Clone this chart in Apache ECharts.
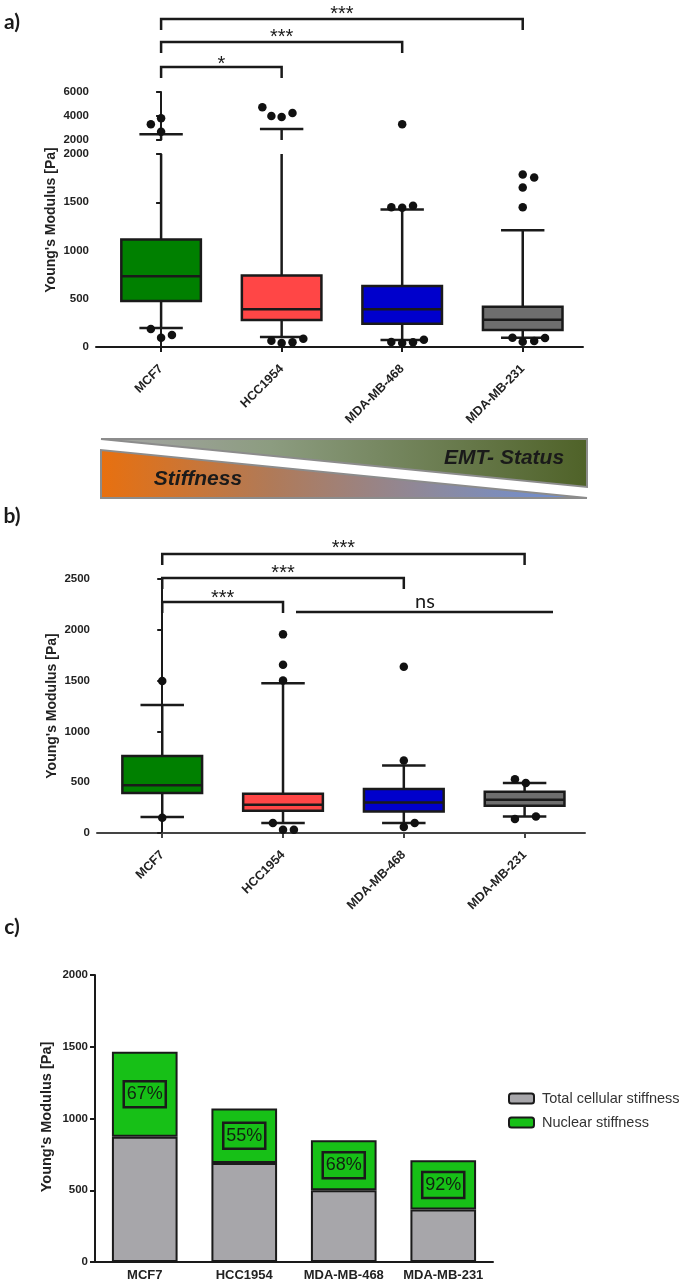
<!DOCTYPE html>
<html><head><meta charset="utf-8">
<script src="https://cdn.jsdelivr.net/npm/echarts@6/dist/echarts.min.js"></script>
<style>html,body{margin:0;padding:0;background:#fff}#c{width:688px;height:1286px}</style>
</head><body><div id="c"></div>
<script>
// ---------------- data ----------------
const categories = ['MCF7', 'HCC1954', 'MDA-MB-468', 'MDA-MB-231'];
const boxColors = ['#008000', '#ff4646', '#0000cc', '#6e6e6e'];

// panel a: [lower whisker, Q1, median, Q3, upper whisker]
const boxA = [
  [197, 476, 732, 1115, 2475],
  [103, 280, 390, 742, 2920],
  [72, 241, 390, 631, 1425],
  [96, 176, 283, 417, 1211]
];
// panel a outliers: [group position, value]
const outliersA = [
  [-0.085, 3308], [0, 3808], [0, 2690], [-0.085, 186], [0, 96], [0.09, 124],
  [0.84, 4725], [0.915, 4000], [1, 3917], [1.09, 4250], [0.915, 65], [1, 41], [1.09, 49], [1.18, 86],
  [1.91, 1449], [2, 1442], [2.09, 1463], [2, 3308], [1.91, 52], [2, 41], [2.09, 49], [2.18, 76],
  [3, 1788], [3.095, 1757], [3, 1653], [3, 1449], [2.915, 96], [3, 55], [3.095, 62], [3.185, 93]
];
const ticksAUpper = [2000, 4000, 6000];
const ticksALower = [0, 500, 1000, 1500, 2000];

// panel b
const boxB = [
  [157, 393, 471, 759, 1260],
  [98, 219, 278, 386, 1473],
  [98, 212, 301, 432, 664],
  [163, 268, 327, 406, 491]
];
const outliersB = [
  [0, 1496], [0, 150],
  [1, 1955], [1, 1655], [1, 1500], [0.916, 98], [1, 33], [1.09, 33],
  [2, 1637], [2, 713], [2, 59], [2.09, 98],
  [2.92, 530], [3.01, 491], [2.92, 137], [3.094, 163]
];
const ticksB = [0, 500, 1000, 1500, 2000, 2500];

// panel c
const totalCellular = [872, 690, 500, 365];
const barTops = [1465, 1070, 849, 709];
const percentLabels = ['67%', '55%', '68%', '92%'];
const ticksC = [0, 500, 1000, 1500, 2000];
const legendNames = ['Total cellular stiffness', 'Nuclear stiffness'];

// ---------------- styles ----------------
const INK = '#1a1a1a';
const AXFONT = '"Liberation Sans", Arial, sans-serif';
const BOX_W = 0.66, CAP_W = 0.36;

function boxRender(params, api) {
  const x = api.value(0);
  const lo = api.coord([x, api.value(1)]);
  const q1 = api.coord([x, api.value(2)]);
  const md = api.coord([x, api.value(3)]);
  const q3 = api.coord([x, api.value(4)]);
  const hi = api.coord([x, api.value(5)]);
  const bw = api.size([BOX_W, 0])[0];
  const cw = api.size([CAP_W, 0])[0];
  const cx = md[0];
  const ls = { stroke: INK, lineWidth: 2.5 };
  return {
    type: 'group',
    children: [
      { type: 'line', shape: { x1: cx, y1: hi[1], x2: cx, y2: q3[1] }, style: ls },
      { type: 'line', shape: { x1: cx, y1: q1[1], x2: cx, y2: lo[1] }, style: ls },
      { type: 'line', shape: { x1: cx - cw / 2, y1: hi[1], x2: cx + cw / 2, y2: hi[1] }, style: ls },
      { type: 'line', shape: { x1: cx - cw / 2, y1: lo[1], x2: cx + cw / 2, y2: lo[1] }, style: ls },
      { type: 'rect', shape: { x: cx - bw / 2, y: q3[1], width: bw, height: q1[1] - q3[1] },
        style: { fill: api.visual('color'), stroke: INK, lineWidth: 2.5 } },
      { type: 'line', shape: { x1: cx - bw / 2, y1: md[1], x2: cx + bw / 2, y2: md[1] }, style: ls }
    ]
  };
}

function boxData(arr) {
  return arr.map((b, i) => ({ value: [i, ...b], itemStyle: { color: boxColors[i] } }));
}

function yAx(grid, ticks) {
  return {
    type: 'value', gridIndex: grid,
    min: ticks[0], max: ticks[ticks.length - 1], interval: ticks[1] - ticks[0],
    axisLine: { show: true, lineStyle: { color: INK, width: 2 } },
    axisTick: { show: true, length: 5, lineStyle: { color: INK, width: 2 } },
    axisLabel: { color: '#222', fontFamily: AXFONT, fontWeight: 'bold', fontSize: 11.5, margin: 7,
      formatter: v => String(v) },
    splitLine: { show: false }
  };
}

function xValAx(grid, show, color) {
  return {
    type: 'value', gridIndex: grid, min: -0.54, max: 3.5, show: show,
    axisLine: { show: true, onZero: false, lineStyle: { color: color || INK, width: 2 } },
    axisTick: { show: true, customValues: [0, 1, 2, 3], length: 5, lineStyle: { color: color || INK, width: 2 } },
    axisLabel: {
      customValues: [0, 1, 2, 3], formatter: v => categories[Math.round(v)],
      rotate: 45, margin: 20, color: '#222', fontFamily: AXFONT, fontWeight: 'bold', fontSize: 12.5
    },
    splitLine: { show: false }
  };
}

const chart = echarts.init(document.getElementById('c'), null, { renderer: 'canvas' });

const dotStyle = { color: '#111', opacity: 1 };

const option = {
  animation: false,
  backgroundColor: '#fff',
  grid: [
    { left: 96, top: 92, width: 487, height: 48 },
    { left: 96, top: 154, width: 487, height: 193 },
    { left: 97, top: 579, width: 488, height: 254 },
    { left: 95, top: 975, width: 398, height: 287 }
  ],
  xAxis: [
    xValAx(0, false),
    xValAx(1, true),
    xValAx(2, true, '#444'),
    { type: 'category', gridIndex: 3, data: categories,
      axisLine: { lineStyle: { color: INK, width: 2 } }, axisTick: { show: false },
      axisLabel: { color: '#222', fontFamily: AXFONT, fontWeight: 'bold', fontSize: 13, margin: 7, interval: 0 } }
  ],
  yAxis: [
    yAx(0, ticksAUpper),
    yAx(1, ticksALower),
    yAx(2, ticksB),
    yAx(3, ticksC)
  ],
  legend: {
    orient: 'vertical', left: 508, top: 1091, padding: 0, itemWidth: 25, itemHeight: 10, itemGap: 9,
    icon: 'roundRect', data: legendNames,
    textStyle: { color: '#333', fontFamily: AXFONT, fontSize: 14.5, padding: [0, 0, 0, 3] }
  },
  series: [
    { type: 'custom', xAxisIndex: 0, yAxisIndex: 0, clip: true, renderItem: boxRender,
      encode: { x: 0, y: [1, 2, 3, 4, 5] }, data: boxData(boxA), z: 2 },
    { type: 'custom', xAxisIndex: 1, yAxisIndex: 1, clip: true, renderItem: boxRender,
      encode: { x: 0, y: [1, 2, 3, 4, 5] }, data: boxData(boxA), z: 2 },
    { type: 'scatter', xAxisIndex: 0, yAxisIndex: 0, clip: true, data: outliersA,
      symbolSize: 8.5, itemStyle: dotStyle, z: 5 },
    { type: 'scatter', xAxisIndex: 1, yAxisIndex: 1, clip: true, data: outliersA,
      symbolSize: 8.5, itemStyle: dotStyle, z: 5 },
    { type: 'custom', xAxisIndex: 2, yAxisIndex: 2, clip: true, renderItem: boxRender,
      encode: { x: 0, y: [1, 2, 3, 4, 5] }, data: boxData(boxB), z: 2 },
    { type: 'scatter', xAxisIndex: 2, yAxisIndex: 2, clip: false, data: outliersB,
      symbolSize: 8.5, itemStyle: dotStyle, z: 5 },
    { name: legendNames[0], type: 'bar', xAxisIndex: 3, yAxisIndex: 3, stack: 'c', barWidth: '66%',
      data: totalCellular,
      itemStyle: { color: '#a7a6aa', borderColor: INK, borderWidth: 2 } },
    { name: legendNames[1], type: 'bar', xAxisIndex: 3, yAxisIndex: 3, stack: 'c', barWidth: '66%',
      data: barTops.map((t, i) => t - totalCellular[i]),
      itemStyle: { color: '#17c017', borderColor: INK, borderWidth: 2 },
      label: {
        show: true, position: 'inside', formatter: p => percentLabels[p.dataIndex],
        color: '#112211', fontFamily: AXFONT, fontSize: 18, borderColor: INK, borderWidth: 2.5,
        padding: [5, 3, 3, 3]
      } }
  ]
};
chart.setOption(option);

// ---------------- annotations ----------------
const pxA = i => chart.convertToPixel({ xAxisIndex: 1 }, i);
const pxB = i => chart.convertToPixel({ xAxisIndex: 2 }, i);
const STAR_FONT = '20px "Liberation Sans", Arial, sans-serif';

function bracket(x1, x2, y, drop) {
  return { type: 'polyline', shape: { points: [[x1, y + drop], [x1, y], [x2, y], [x2, y + drop]] },
    style: { stroke: INK, lineWidth: 2.5, fill: null }, z: 10 };
}
function txt(x, y, s, font) {
  return { type: 'text', x: x, y: y, z: 10,
    style: { text: s, font: font, fill: INK, align: 'center', verticalAlign: 'middle' } };
}
function vtitle(x, y, size) {
  return { type: 'text', x: x, y: y, rotation: Math.PI / 2, z: 10,
    style: { text: "Young's Modulus [Pa]", font: 'bold ' + size + 'px "Liberation Sans", Arial, sans-serif',
      fill: '#222', align: 'center', verticalAlign: 'middle' } };
}

const graphics = [
  txt(12, 22, 'a)', 'bold 21px Lato, "Open Sans", sans-serif'),
  txt(12, 516, 'b)', 'bold 21px Lato, "Open Sans", sans-serif'),
  txt(12, 927, 'c)', 'bold 21px Lato, "Open Sans", sans-serif'),
  vtitle(51, 220, 14),
  vtitle(52, 706, 14),
  vtitle(47, 1117, 14.5),
  // panel a brackets
  bracket(pxA(0), pxA(3), 19, 11), txt((pxA(0) + pxA(3)) / 2, 14, '***', STAR_FONT),
  bracket(pxA(0), pxA(2), 42, 11), txt((pxA(0) + pxA(2)) / 2, 37, '***', STAR_FONT),
  bracket(pxA(0), pxA(1), 67, 11), txt((pxA(0) + pxA(1)) / 2, 64, '*', STAR_FONT),
  // panel b brackets
  bracket(pxB(0), pxB(3), 554, 11), txt((pxB(0) + pxB(3)) / 2, 548, '***', STAR_FONT),
  bracket(pxB(0), pxB(2), 578, 11), txt((pxB(0) + pxB(2)) / 2, 573, '***', STAR_FONT),
  bracket(pxB(0), pxB(1), 602, 11), txt((pxB(0) + pxB(1)) / 2, 598, '***', STAR_FONT),
  { type: 'line', shape: { x1: 296, y1: 612, x2: 553, y2: 612 }, style: { stroke: INK, lineWidth: 2.5 }, z: 10 },
  txt(425, 602, 'ns', '20px Lato, "Open Sans", sans-serif'),
  // banner
  { type: 'polygon', shape: { points: [[101, 439], [587, 439], [587, 487]] }, z: 1,
    style: { stroke: '#8c8c8c', lineWidth: 2,
      fill: new echarts.graphic.LinearGradient(0, 0, 1, 0, [
        { offset: 0, color: '#a6a6a6' }, { offset: 0.35, color: '#8c9c80' }, { offset: 1, color: '#4f6228' }]) } },
  { type: 'polygon', shape: { points: [[101, 450], [101, 498], [587, 498]] }, z: 1,
    style: { stroke: '#8c8c8c', lineWidth: 2,
      fill: new echarts.graphic.LinearGradient(0, 0, 1, 0, [
        { offset: 0, color: '#e8700f' }, { offset: 0.35, color: '#b07a58' }, { offset: 0.7, color: '#8a8aa2' },
        { offset: 1, color: '#6a90dc' }]) } },
  txt(504, 458, 'EMT- Status', 'italic bold 21px "Liberation Sans", Arial, sans-serif'),
  txt(198, 479, 'Stiffness', 'italic bold 21px "Liberation Sans", Arial, sans-serif')
];
chart.setOption({ graphic: graphics });
</script>
</body></html>
